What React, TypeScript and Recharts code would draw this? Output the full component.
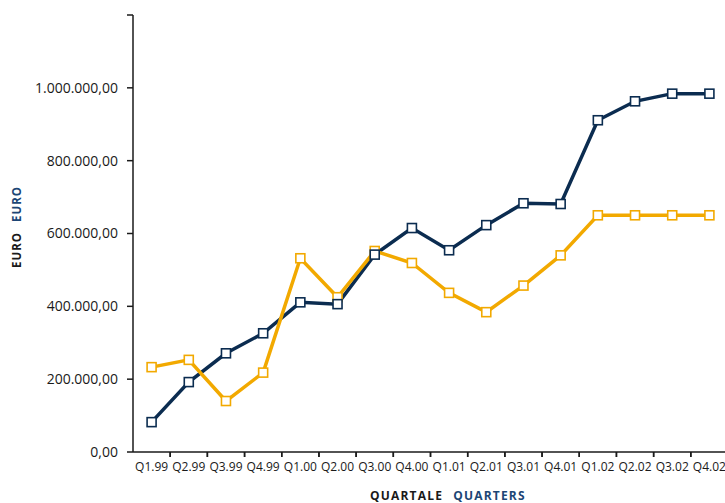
import { LineChart, Line, XAxis, YAxis } from "recharts"

const quarters = [
  "Q1.99", "Q2.99", "Q3.99", "Q4.99",
  "Q1.00", "Q2.00", "Q3.00", "Q4.00",
  "Q1.01", "Q2.01", "Q3.01", "Q4.01",
  "Q1.02", "Q2.02", "Q3.02", "Q4.02",
]

const navyValues = [
  82000, 192000, 271000, 326000,
  411000, 406000, 542000, 615000,
  554000, 623000, 683000, 681000,
  911000, 963000, 984000, 984000,
]

const orangeValues = [
  233000, 253000, 140000, 218000,
  532000, 425000, 552000, 519000,
  437000, 384000, 457000, 540000,
  650000, 650000, 650000, 650000,
]

const yTicks = [0, 200000, 400000, 600000, 800000, 1000000, 1200000]

const NAVY = "#0b2c50"
const ORANGE = "#f2a900"
const BLUE_TEXT = "#1c4675"
const INK = "#1a1a1a"
const FONT = "'Open Sans', sans-serif"

const CHART_W = 733
const CHART_H = 503
const MARGIN = { top: 15, right: 5, bottom: 0, left: 0 }
const Y_AXIS_W = 133
const X_AXIS_H = 51
const PLOT_W = CHART_W - MARGIN.left - MARGIN.right - Y_AXIS_W
const BAND = PLOT_W / quarters.length

const data = quarters.map((q, i) => ({
  q,
  navy: navyValues[i],
  orange: orangeValues[i],
}))

function formatEuro(v: number) {
  if (v >= 1200000) return ""
  const s = Math.round(v).toString().replace(/\B(?=(\d{3})+(?!\d))/g, ".")
  return `${s},00`
}

function QuarterTick(props: any) {
  const { x, y, payload, index } = props
  const left = x - BAND / 2
  return (
    <g>
      {index > 0 && (
        <line x1={left} y1={y} x2={left} y2={y + 5} stroke={INK} strokeWidth={1.5} />
      )}
      <line x1={x + BAND / 2} y1={y} x2={x + BAND / 2} y2={y + 5} stroke={INK} strokeWidth={1.5} />
      <text x={x} y={y + 19} textAnchor="middle" fontFamily={FONT} fontSize={12} fill={INK}>
        {payload.value}
      </text>
    </g>
  )
}

function SquareDot(color: string) {
  return (props: any) => {
    const { cx, cy, index } = props
    if (cx == null || cy == null) return <g key={index} />
    return (
      <rect
        key={index}
        x={cx - 4.5}
        y={cy - 4.5}
        width={9}
        height={9}
        fill="#ffffff"
        stroke={color}
        strokeWidth={1.6}
      />
    )
  }
}

export default function App() {
  return (
    <div style={{ width: 725, height: 503, overflow: "hidden", position: "relative" }}>
      <style>{"body{margin:0}"}</style>
      <LineChart width={CHART_W} height={CHART_H} data={data} margin={MARGIN}>
        <XAxis
          dataKey="q"
          scale="band"
          height={X_AXIS_H}
          axisLine={{ stroke: INK, strokeWidth: 1.5 }}
          tickLine={false}
          tickSize={0}
          tickMargin={0}
          interval={0}
          tick={<QuarterTick />}
          label={{
            content: () => (
              <text x={370} y={500} fontFamily={FONT} fontSize={12} fontWeight={700} letterSpacing={1.2}>
                <tspan fill={INK}>QUARTALE</tspan>
                <tspan fill={BLUE_TEXT} dx={10}>QUARTERS</tspan>
              </text>
            ),
          }}
        />
        <YAxis
          width={Y_AXIS_W}
          domain={[0, 1200000]}
          ticks={yTicks}
          interval={0}
          tickFormatter={formatEuro}
          axisLine={{ stroke: INK, strokeWidth: 1.5 }}
          tickLine={{ stroke: INK, strokeWidth: 1.5 }}
          tickSize={6}
          tickMargin={9}
          tick={{ fontFamily: FONT, fontSize: 14, fill: INK }}
          label={{
            content: () => (
              <text
                x={21}
                y={227}
                transform="rotate(-90, 21, 227)"
                textAnchor="middle"
                fontFamily={FONT}
                fontSize={11.5}
                fontWeight={700}
                letterSpacing={1}
              >
                <tspan fill={INK}>EURO</tspan>
                <tspan fill={BLUE_TEXT} dx={10}>EURO</tspan>
              </text>
            ),
          }}
        />
        <Line
          dataKey="navy"
          stroke={NAVY}
          strokeWidth={3.5}
          dot={false}
          activeDot={false}
          isAnimationActive={false}
        />
        <Line
          dataKey="orange"
          stroke={ORANGE}
          strokeWidth={3.5}
          dot={SquareDot(ORANGE)}
          activeDot={false}
          isAnimationActive={false}
        />
        <Line
          dataKey="navy"
          stroke="none"
          strokeWidth={0}
          dot={SquareDot(NAVY)}
          activeDot={false}
          legendType="none"
          isAnimationActive={false}
        />
      </LineChart>
    </div>
  )
}
